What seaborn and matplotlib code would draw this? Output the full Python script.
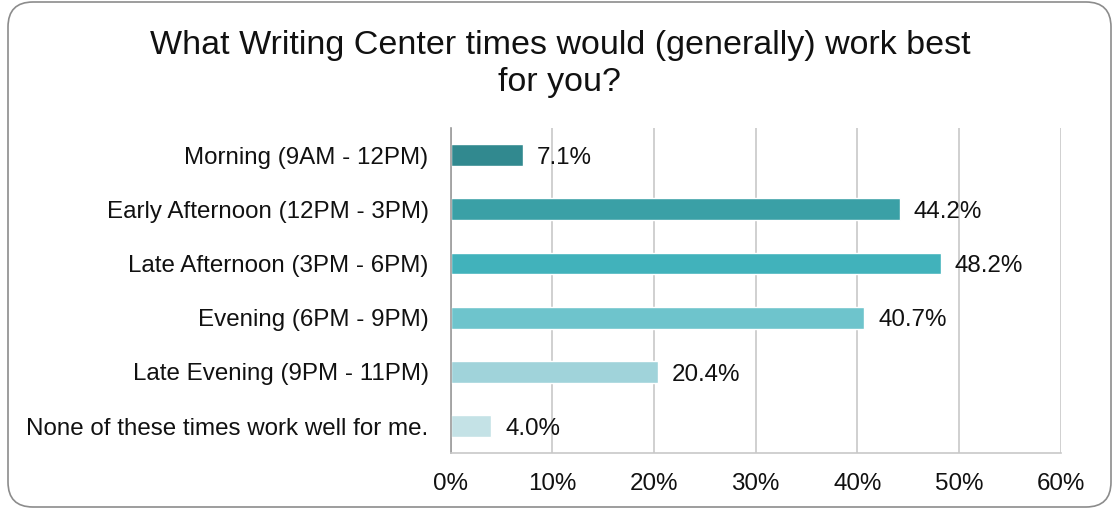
import matplotlib
matplotlib.use("Agg")
import matplotlib.pyplot as plt
from matplotlib.patches import FancyBboxPatch
from matplotlib.transforms import IdentityTransform
import seaborn as sns
import pandas as pd

categories = [
    "Morning (9AM - 12PM)",
    "Early Afternoon (12PM - 3PM)",
    "Late Afternoon (3PM - 6PM)",
    "Evening (6PM - 9PM)",
    "Late Evening (9PM - 11PM)",
    "None of these times work well for me.",
]
values = [7.1, 44.2, 48.2, 40.7, 20.4, 4.0]
colors = ["#31898f", "#3aa0a6", "#41b2bb", "#6ec4cc", "#a0d3da", "#c4e2e6"]
xticks = [0, 10, 20, 30, 40, 50, 60]
title = "What Writing Center times would (generally) work best\nfor you?"

sns.set_theme(style="white")
plt.rcParams["font.family"] = ["Liberation Sans", "DejaVu Sans"]

df = pd.DataFrame({"time": categories, "pct": values})

fig = plt.figure(figsize=(11.13, 5.08), dpi=100)
ax = fig.add_axes([0.405, 0.108, 0.548, 0.640])

sns.barplot(data=df, y="time", x="pct", hue="time", palette=colors,
            order=categories, hue_order=categories, orient="h",
            width=0.4, legend=False, ax=ax, saturation=1)

ax.set_xlim(0, 60)
ax.set_xticks(xticks)
ax.set_xticklabels([f"{t}%" for t in xticks], fontsize=17.4, color="#111111")
ax.tick_params(axis="y", labelsize=17.4, labelcolor="#111111", length=0, pad=16)
ax.tick_params(axis="x", length=0, pad=14)
ax.set_xlabel("")
ax.set_ylabel("")
ax.grid(axis="x", color="#c8c8c8", linewidth=1.2)
ax.set_axisbelow(True)
for side in ["top", "right"]:
    ax.spines[side].set_visible(False)
ax.spines["left"].set_color("#9a9a9a")
ax.spines["left"].set_linewidth(1.2)
ax.spines["bottom"].set_color("#c8c8c8")
ax.spines["bottom"].set_linewidth(1.2)

for i, v in enumerate(values):
    ax.annotate(f"{v:.1f}%", xy=(v, i), xytext=(10, -2), textcoords="offset points",
                va="center", ha="left", fontsize=17.4, color="#111111")

fig.text(0.503, 0.874, title, ha="center", va="center", fontsize=24.5,
         color="#111111", linespacing=1.22)

# rounded frame around the whole chart, in pixel coordinates
border = FancyBboxPatch((8, 1), 1103, 505,
                        boxstyle="round,pad=0,rounding_size=25",
                        transform=IdentityTransform(), fill=False,
                        edgecolor="#8c8c8c", linewidth=1.2)
fig.patches.append(border)

fig.savefig("out.png", dpi=100)
